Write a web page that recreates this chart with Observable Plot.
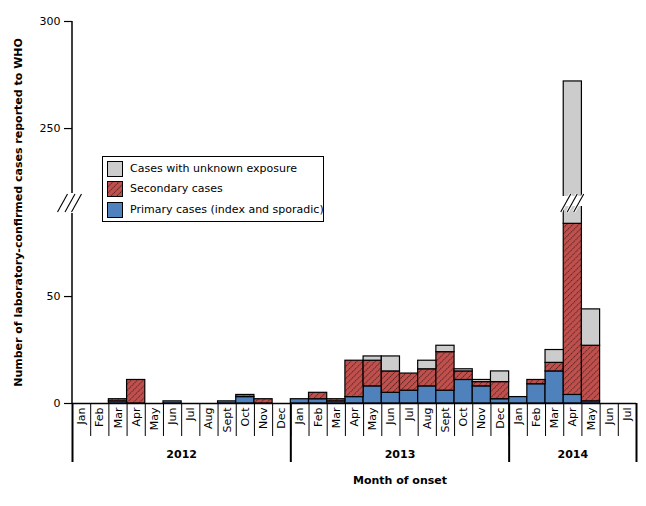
<!DOCTYPE html>
<html><head><meta charset="utf-8">
<script src="https://cdn.jsdelivr.net/npm/d3@7"></script>
<script src="https://cdn.jsdelivr.net/npm/@observablehq/plot@0.6"></script>
<style>
body{margin:0;background:#fff;font-family:"DejaVu Sans",Verdana,sans-serif;}
#wrap{position:relative;width:646px;height:506px;}
#legend{position:absolute;left:102px;top:156px;width:220px;height:64px;border:1px solid #000;background:#fff;font-size:11px;color:#000;}
.row{position:absolute;left:4px;height:17px;display:flex;align-items:center;white-space:nowrap;}
.row svg{margin-right:7px;display:block}
</style></head><body><div id="wrap"></div>
<script>
const months = ["Jan","Feb","Mar","Apr","May","Jun","Jul","Aug","Sept","Oct","Nov","Dec",
                "Jan","Feb","Mar","Apr","May","Jun","Jul","Aug","Sept","Oct","Nov","Dec",
                "Jan","Feb","Mar","Apr","May","Jun","Jul"];
const years = ["2012","2013","2014"];
const yearLengths = [12,12,7];
const primary   = [0,0,1,0,0,1,0,0,1,3,0,0,  2,2,1,3,8,5,6,8,6,11,8,2,  3,9,15,4,1,0,0];
const secondary = [0,0,1,11,0,0,0,0,0,1,2,0, 0,3,1,17,12,10,8,8,18,4,2,8, 0,2,4,80,26,0,0];
const unknown   = [0,0,0,0,0,0,0,0,0,0,0,0,  0,0,0,0,2,7,0,4,3,1,1,5,    0,0,6,188,17,0,0];
const yTicks = [0,50,250,300];
const seriesNames = {unknown:"Cases with unknown exposure", secondary:"Secondary cases", primary:"Primary cases (index and sporadic)"};
const fills = {primary:"#4F81BD", secondary:"url(#hatch)", unknown:"#CCCCCC"};
const breakLow = 93.5, breakHigh = 215;
const yTitle = "Number of laboratory-confirmed cases reported to WHO";
const xTitle = "Month of onset";

// stacked segments
const rows = [];
months.forEach((m,i)=>{
  let base = 0;
  [["primary",primary[i]],["secondary",secondary[i]],["unknown",unknown[i]]].forEach(([k,v])=>{
    if (v>0) rows.push({i, k, y1:base, y2:base+v});
    base += v;
  });
});
const yearStarts = yearLengths.map((n,k)=>d3.sum(yearLengths.slice(0,k)));
const yearBounds = [...yearStarts, d3.sum(yearLengths)];
const yearCenters = yearStarts.map((s,k)=>s + yearLengths[k]/2);
const N = months.length;

const barMarks = ["primary","secondary","unknown"].map(k =>
  Plot.rectY(rows.filter(d=>d.k===k), {x1:d=>d.i, x2:d=>d.i+1, y1:"y1", y2:"y2", fill:fills[k], stroke:"#000", strokeWidth:1.2})
);

const plot = Plot.plot({
  width:646, height:506,
  marginLeft:72, marginRight:10, marginTop:21, marginBottom:103,
  style:{fontFamily:"DejaVu Sans, Verdana, sans-serif", fontSize:"11px", color:"#000", background:"#fff"},
  x:{type:"linear", domain:[0,N]},
  y:{type:"linear", domain:[0,breakLow,breakHigh,300], range:[403,203,203,21]},
  marks:[
    ...barMarks,
    Plot.ruleY([0], {stroke:"#000", strokeWidth:1.5}),
    Plot.axisY({ticks:yTicks, tickSize:8, tickPadding:4, label:null, strokeWidth:1.2}),
    Plot.axisX({ticks:d3.range(0,N+1), tickSize:33, tickFormat:()=>"", label:null}),
    Plot.axisX({ticks:yearBounds, tickSize:59, tickFormat:()=>"", label:null, strokeWidth:2}),
    Plot.axisX({ticks:months.map((m,i)=>i+0.5), tickSize:0, tickPadding:4, tickRotate:-90, textAnchor:"end", lineAnchor:"middle", tickFormat:d=>months[Math.floor(d)], label:null}),
    Plot.axisX({ticks:yearCenters, tickSize:0, tickPadding:47, fontWeight:"bold", tickFormat:d=>years[yearCenters.indexOf(d)], label:null}),
    Plot.text([yTitle], {frameAnchor:"left", textAnchor:"middle", lineAnchor:"middle", rotate:-90, dx:-54, fontWeight:"bold", text:d=>d}),
    Plot.text([xTitle], {x:()=>yearCenters[1], frameAnchor:"bottom", dy:80, fontWeight:"bold", text:d=>d})
  ]
});

const svg = d3.select(plot);
const defs = svg.insert("defs", ":first-child");
const P = 4.3;
const pat = defs.append("pattern").attr("id","hatch").attr("patternUnits","userSpaceOnUse")
  .attr("width",P).attr("height",P).attr("patternTransform","rotate(45)");
pat.append("rect").attr("width",P).attr("height",P).attr("fill","#C0504D");
pat.append("line").attr("x1",0.5).attr("y1",0).attr("x2",0.5).attr("y2",P).attr("stroke","#3a1512").attr("stroke-width",0.75).attr("stroke-dasharray","1.4,0.75");

const X = plot.scale("x"), Y = plot.scale("y");
const yb = Y.apply(breakLow);
const g = svg.append("g");
const x0 = X.apply(0);
g.append("line").attr("x1",x0).attr("x2",x0).attr("y1",Y.apply(0)).attr("y2",yb+10).attr("stroke","#000").attr("stroke-width",1.5);
g.append("line").attr("x1",x0).attr("x2",x0).attr("y1",yb-10).attr("y2",Y.apply(300)).attr("stroke","#000").attr("stroke-width",1.5);
[-9.5,-2,4.5].forEach(o=>{
  g.append("line").attr("x1",x0+o-5).attr("y1",yb+9).attr("x2",x0+o+5).attr("y2",yb-9).attr("stroke","#000").attr("stroke-width",1.1);
});
// bar breaks
rows.filter(d=>d.y2>breakHigh && d.y1<breakLow).forEach(d=>{
  const xs = X.apply(d.i), xe = X.apply(d.i+1);
  g.append("rect").attr("x",xs-1.5).attr("y",yb-7).attr("width",xe-xs+3).attr("height",10).attr("fill","#fff");
  [2.5,9,15.5].forEach(o=>{
    g.append("line").attr("x1",xs+o-5).attr("y1",yb+9).attr("x2",xs+o+5).attr("y2",yb-9).attr("stroke","#fff").attr("stroke-width",3);
    g.append("line").attr("x1",xs+o-5).attr("y1",yb+9).attr("x2",xs+o+5).attr("y2",yb-9).attr("stroke","#000").attr("stroke-width",1.1);
  });
});

const wrap = document.getElementById("wrap");
wrap.appendChild(plot);
plot.style.position = "absolute"; plot.style.left = "0"; plot.style.top = "0";

// legend
const legend = document.createElement("div");
legend.id = "legend";
const order = ["unknown","secondary","primary"];
const tops = [4,24,45];
order.forEach((k,j)=>{
  const row = document.createElement("div");
  row.className = "row";
  row.style.top = (tops[j]-1) + "px";
  row.innerHTML = `<svg width="16" height="16"><rect x="0.5" y="0.5" width="15" height="15" fill="${fills[k]}" stroke="#000" stroke-width="1"/></svg><span>${seriesNames[k]}</span>`;
  legend.appendChild(row);
});
wrap.appendChild(legend);
</script>
</body></html>
